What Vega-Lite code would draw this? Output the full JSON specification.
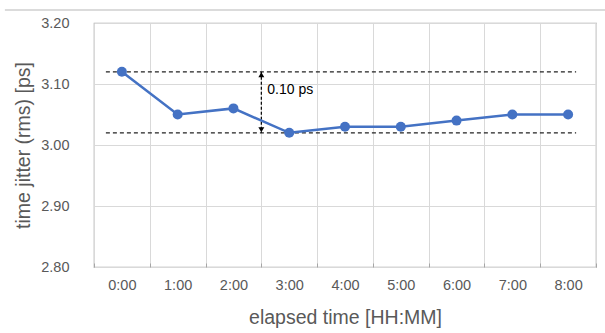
{
  "$schema": "https://vega.github.io/schema/vega-lite/v6.json",
  "width": 502,
  "height": 244,
  "autosize": {"type": "none"},
  "padding": {"left": 94, "top": 23, "right": 9, "bottom": 66},
  "background": "white",
  "config": {
    "font": "Liberation Sans",
    "view": {"stroke": "#a6a6a6", "strokeWidth": 1.2},
    "axis": {
      "labelFont": "Liberation Sans",
      "labelFontSize": 14.5,
      "labelColor": "#595959",
      "titleFont": "Liberation Sans",
      "titleFontSize": 19.5,
      "titleColor": "#595959",
      "titleFontWeight": "normal",
      "gridColor": "#d9d9d9",
      "gridWidth": 1,
      "domain": false,
      "tickColor": "#a6a6a6",
      "tickSize": -4
    },
    "axisX": {"tickBand": "extent", "labelAngle": 0, "labelPadding": 15, "titlePadding": 17},
    "axisY": {"labelPadding": 29, "titlePadding": 7}
  },
  "datasets": {
    "main": [
      {"time": "0:00", "jitter": 3.12},
      {"time": "1:00", "jitter": 3.05},
      {"time": "2:00", "jitter": 3.06},
      {"time": "3:00", "jitter": 3.02},
      {"time": "4:00", "jitter": 3.03},
      {"time": "5:00", "jitter": 3.03},
      {"time": "6:00", "jitter": 3.04},
      {"time": "7:00", "jitter": 3.05},
      {"time": "8:00", "jitter": 3.05}
    ],
    "levels": [{"level": 3.12}, {"level": 3.02}],
    "arrow": [{"time": "3:00", "top": 3.12, "bottom": 3.02, "labelY": 3.09, "text": "0.10 ps"}]
  },
  "layer": [
    {
      "data": {"values": [{"y": 3.2}]},
      "mark": {"type": "rule", "color": "#cfcfcf", "strokeWidth": 1.5, "yOffset": -13, "xOffset": -117, "x2Offset": 37},
      "encoding": {
        "x": {"datum": "0:00", "type": "ordinal"},
        "x2": {"datum": "8:00"},
        "y": {"field": "y", "type": "quantitative"}
      }
    },
    {
      "data": {"name": "levels"},
      "mark": {"type": "rule", "color": "#222222", "strokeWidth": 1.3, "strokeDash": [4, 3], "xOffset": -16, "x2Offset": 8},
      "encoding": {
        "x": {"datum": "0:00", "type": "ordinal"},
        "x2": {"datum": "8:00"},
        "y": {"field": "level", "type": "quantitative"}
      }
    },
    {
      "data": {"name": "arrow"},
      "mark": {"type": "rule", "color": "#000000", "strokeWidth": 1.2, "strokeDash": [3, 2]},
      "encoding": {
        "x": {"field": "time", "type": "ordinal", "bandPosition": 0, "title": "elapsed time [HH:MM]"},
        "y": {"field": "top", "type": "quantitative", "title": "time jitter (rms) [ps]"},
        "y2": {"field": "bottom"}
      }
    },
    {
      "data": {"name": "arrow"},
      "mark": {"type": "point", "shape": "triangle-up", "filled": true, "color": "#000000", "size": 35, "opacity": 1, "yOffset": 3},
      "encoding": {
        "x": {"field": "time", "type": "ordinal", "bandPosition": 0, "title": "elapsed time [HH:MM]"},
        "y": {"field": "top", "type": "quantitative", "title": "time jitter (rms) [ps]"}
      }
    },
    {
      "data": {"name": "arrow"},
      "mark": {"type": "point", "shape": "triangle-down", "filled": true, "color": "#000000", "size": 35, "opacity": 1, "yOffset": -3},
      "encoding": {
        "x": {"field": "time", "type": "ordinal", "bandPosition": 0, "title": "elapsed time [HH:MM]"},
        "y": {"field": "bottom", "type": "quantitative", "title": "time jitter (rms) [ps]"}
      }
    },
    {
      "data": {"name": "arrow"},
      "mark": {"type": "text", "align": "left", "baseline": "middle", "dx": 6, "fontSize": 14, "color": "#000000", "font": "Liberation Sans"},
      "encoding": {
        "x": {"field": "time", "type": "ordinal", "bandPosition": 0, "title": "elapsed time [HH:MM]"},
        "y": {"field": "labelY", "type": "quantitative", "title": "time jitter (rms) [ps]"},
        "text": {"field": "text"}
      }
    },
    {
      "data": {"name": "main"},
      "mark": {"type": "line", "color": "#4472C4", "strokeWidth": 2.5, "point": {"filled": true, "size": 100, "color": "#4472C4", "opacity": 1}},
      "encoding": {
        "x": {
          "field": "time",
          "type": "ordinal",
          "title": "elapsed time [HH:MM]",
          "scale": {"type": "band", "paddingInner": 0, "paddingOuter": 0, "domain": ["0:00", "1:00", "2:00", "3:00", "4:00", "5:00", "6:00", "7:00", "8:00"]},
          "axis": {"grid": true}
        },
        "y": {
          "field": "jitter",
          "type": "quantitative",
          "title": "time jitter (rms) [ps]",
          "scale": {"domain": [2.8, 3.2], "nice": false, "zero": false},
          "axis": {
            "values": [2.8, 2.85, 2.9, 2.95, 3.0, 3.05, 3.1, 3.15, 3.2],
            "labelExpr": "round(datum.value*100) % 10 === 0 ? format(datum.value, '.2f') : ''",
            "gridOpacity": {"condition": {"test": "round(datum.value*100) % 10 === 0", "value": 1}, "value": 0},
            "tickOpacity": {"condition": {"test": "round(datum.value*100) % 10 === 0", "value": 0}, "value": 1}
          }
        }
      }
    }
  ]
}
